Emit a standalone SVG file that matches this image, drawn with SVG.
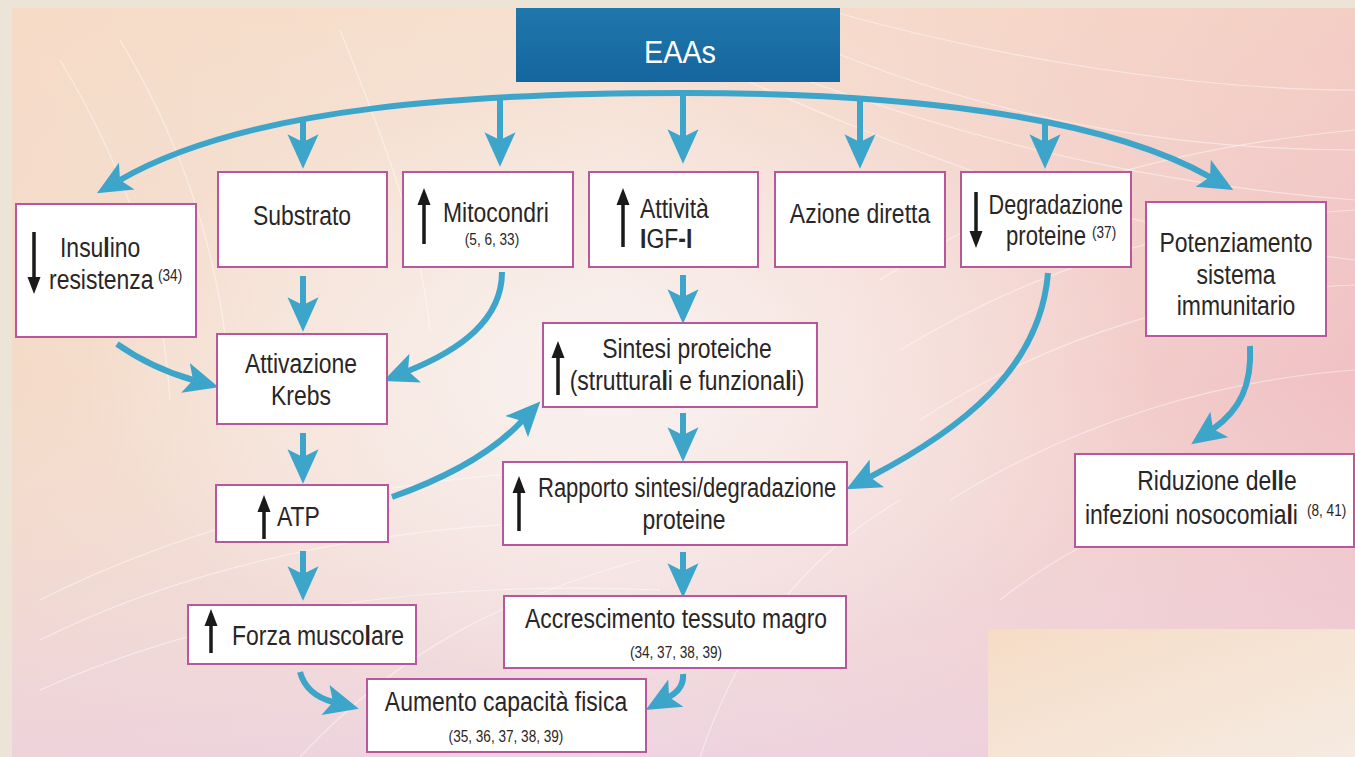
<svg xmlns="http://www.w3.org/2000/svg" width="1355" height="757" viewBox="0 0 1355 757">
<defs>
<style>
.box{fill:#ffffff;stroke:#b8589c;stroke-width:2}
.t{font-family:"Liberation Sans",Arial,sans-serif;font-size:27px;fill:#2a2626}
.s{font-family:"Liberation Sans",Arial,sans-serif;font-size:16px;fill:#2a2626}
.b{font-weight:bold}
.c{fill:none;stroke:#3ea5ca;stroke-width:6;marker-end:url(#ah)}
.ba{fill:#1a1a1a}
.bl{stroke:#1a1a1a;stroke-width:3.5}
.wl{fill:none;stroke:#ffffff;stroke-width:1.2;opacity:0.45}
</style>
<marker id="ah" markerUnits="userSpaceOnUse" markerWidth="40" markerHeight="40" refX="0" refY="0" viewBox="-10 -16 36 32" orient="auto" overflow="visible">
<path d="M24,0 L-7,-14 L0,0 L-7,14 Z" fill="#3ea5ca"/>
</marker>
<linearGradient id="bgH" x1="0" y1="0" x2="1" y2="0">
<stop offset="0" stop-color="#f4dac5"/>
<stop offset="0.45" stop-color="#f6e6dc"/>
<stop offset="0.75" stop-color="#f3d0ca"/>
<stop offset="1" stop-color="#f0bdc1"/>
</linearGradient>
<linearGradient id="bgV" x1="0" y1="0" x2="0" y2="1">
<stop offset="0" stop-color="#f7dcc6" stop-opacity="0.55"/>
<stop offset="0.5" stop-color="#f3e2e2" stop-opacity="0.1"/>
<stop offset="1" stop-color="#ecd0e0" stop-opacity="0.8"/>
</linearGradient>
<radialGradient id="glow" cx="0.45" cy="0.5" r="0.4">
<stop offset="0" stop-color="#faf4f4" stop-opacity="0.8"/>
<stop offset="1" stop-color="#faf4f4" stop-opacity="0"/>
</radialGradient>
<linearGradient id="peach" x1="0" y1="0" x2="1" y2="1">
<stop offset="0" stop-color="#f6dcc6"/>
<stop offset="1" stop-color="#f5ebe2"/>
</linearGradient>
<linearGradient id="blue" x1="0" y1="0" x2="0" y2="1">
<stop offset="0" stop-color="#1f77ac"/>
<stop offset="1" stop-color="#15669e"/>
</linearGradient>
</defs>

<g id="background">
<rect x="0" y="0" width="1355" height="757" fill="#ede4d8"/>
<rect x="12" y="8" width="1343" height="749" fill="url(#bgH)"/>
<rect x="12" y="8" width="1343" height="749" fill="url(#bgV)"/>
<rect x="12" y="8" width="1343" height="749" fill="url(#glow)"/>
<path class="wl" d="M700,40 C900,120 1100,180 1355,200"/>
<path class="wl" d="M700,60 C900,150 1100,230 1355,260"/>
<path class="wl" d="M760,20 C950,110 1150,150 1355,150"/>
<path class="wl" d="M820,8 C1000,60 1200,90 1355,90"/>
<path class="wl" d="M880,280 C1000,200 1150,150 1355,130"/>
<path class="wl" d="M900,350 C1050,260 1200,220 1355,210"/>
<path class="wl" d="M920,420 C1060,330 1210,290 1355,285"/>
<path class="wl" d="M950,500 C1080,420 1220,380 1355,370"/>
<path class="wl" d="M1000,600 C1100,520 1230,480 1355,470"/>
<path class="wl" d="M40,600 C200,520 400,470 620,470"/>
<path class="wl" d="M40,640 C200,560 400,520 640,520"/>
<path class="wl" d="M40,690 C220,610 420,580 660,590"/>
<path class="wl" d="M300,757 C400,650 500,600 640,560"/>
<path class="wl" d="M700,757 C740,640 800,560 900,500"/>
<path class="wl" d="M60,60 C120,160 160,260 170,400"/>
<path class="wl" d="M120,40 C180,140 220,250 230,380"/>
<path class="wl" d="M340,30 C380,130 420,230 430,330"/>
<rect x="988" y="629" width="367" height="128" fill="url(#peach)"/>
</g>

<g id="connectors">
<path class="c" d="M683,93 C480,93 250,105 120,180"/>
<path class="c" d="M683,93 C900,93 1100,115 1210,177"/>
<path class="c" d="M303,117 L303,142"/>
<path class="c" d="M500,96 L500,140"/>
<path class="c" d="M683,92 L683,137"/>
<path class="c" d="M860,96 L860,142"/>
<path class="c" d="M1045,119 L1045,142"/>
<path class="c" d="M303,276 L303,305"/>
<path class="c" d="M502,272 C502,320 460,350 408,371"/>
<path class="c" d="M117,344 C140,360 165,372 193,380"/>
<path class="c" d="M303,433 L303,457"/>
<path class="c" d="M392,497 C440,480 490,455 522,421"/>
<path class="c" d="M683,275 L683,297"/>
<path class="c" d="M683,413 L683,435"/>
<path class="c" d="M1048,273 C1040,370 960,430 870,477"/>
<path class="c" d="M1250,346 C1252,385 1240,410 1213,429"/>
<path class="c" d="M303,551 L303,574"/>
<path class="c" d="M683,552 L683,571"/>
<path class="c" d="M300,672 C305,690 318,698 333,702"/>
<path class="c" d="M683,674 C684,685 678,692 669,697"/>
</g>

<g id="eaas">
<rect x="516" y="8" width="324" height="74" fill="url(#blue)"/>
<text text-anchor="middle" transform="translate(680 63) scale(0.9 1)" font-family="Liberation Sans, Arial, sans-serif" font-size="32" fill="#ffffff">EAAs</text>
</g>

<g id="insulino">
<rect class="box" x="16" y="204" width="180" height="133"/>
<line class="bl" x1="34" y1="232" x2="34" y2="279"/>
<polygon class="ba" points="27.5,277 40.5,277 34,294"/>
<text class="t" transform="translate(60 257) scale(0.85 1)">Insu<tspan class="b">l</tspan>ino</text>
<text class="t" transform="translate(49 289) scale(0.85 1)">resistenza</text>
<text class="s" transform="translate(158 281) scale(0.85 1)">(34)</text>
</g>

<g id="substrato">
<rect class="box" x="218" y="172" width="169" height="95"/>
<text class="t" text-anchor="middle" transform="translate(302 225) scale(0.85 1)">Substrato</text>
</g>

<g id="mitocondri">
<rect class="box" x="403" y="172" width="170" height="95"/>
<line class="bl" x1="424" y1="203" x2="424" y2="244"/>
<polygon class="ba" points="417.5,205 430.5,205 424,188"/>
<text class="t" transform="translate(443 222) scale(0.85 1)">Mitocondri</text>
<text class="s" text-anchor="middle" transform="translate(492 245) scale(0.85 1)">(5, 6, 33)</text>
</g>

<g id="attivita">
<rect class="box" x="589" y="172" width="169" height="95"/>
<line class="bl" x1="623" y1="203" x2="623" y2="247"/>
<polygon class="ba" points="616.5,205 629.5,205 623,188"/>
<text class="t" transform="translate(640 218) scale(0.85 1)">Attività</text>
<text class="t" transform="translate(640 248) scale(0.85 1)"><tspan class="b">I</tspan>GF<tspan class="b">-I</tspan></text>
</g>

<g id="azione">
<rect class="box" x="775" y="172" width="170" height="95"/>
<text class="t" text-anchor="middle" transform="translate(860 223) scale(0.85 1)">Azione diretta</text>
</g>

<g id="degradazione">
<rect class="box" x="961" y="172" width="170" height="95"/>
<line class="bl" x1="976" y1="192" x2="976" y2="233"/>
<polygon class="ba" points="969.5,231 982.5,231 976,248"/>
<text class="t" text-anchor="end" transform="translate(1123 214) scale(0.8 1)">Degradazione</text>
<text class="t" transform="translate(1006 245) scale(0.82 1)">proteine</text>
<text class="s" transform="translate(1092 238) scale(0.85 1)">(37)</text>
</g>

<g id="potenziamento">
<rect class="box" x="1146" y="202" width="180" height="134"/>
<text class="t" text-anchor="middle" transform="translate(1236 252) scale(0.85 1)">Potenziamento</text>
<text class="t" text-anchor="middle" transform="translate(1236 284) scale(0.85 1)">sistema</text>
<text class="t" text-anchor="middle" transform="translate(1236 315) scale(0.85 1)">immunitario</text>
</g>

<g id="krebs">
<rect class="box" x="217" y="334" width="170" height="90"/>
<text class="t" text-anchor="middle" transform="translate(301 373) scale(0.85 1)">Attivazione</text>
<text class="t" text-anchor="middle" transform="translate(301 405) scale(0.85 1)">Krebs</text>
</g>

<g id="sintesi">
<rect class="box" x="543" y="323" width="274" height="84"/>
<line class="bl" x1="558" y1="356" x2="558" y2="395"/>
<polygon class="ba" points="551.5,358 564.5,358 558,341"/>
<text class="t" text-anchor="middle" transform="translate(687 358) scale(0.85 1)">Sintesi proteiche</text>
<text class="t" text-anchor="middle" transform="translate(687 390) scale(0.85 1)">(struttura<tspan class="b">l</tspan>i e funziona<tspan class="b">l</tspan>i)</text>
</g>

<g id="atp">
<rect class="box" x="216" y="485" width="172" height="57"/>
<line class="bl" x1="264" y1="510" x2="264" y2="539"/>
<polygon class="ba" points="257.5,512 270.5,512 264,495"/>
<text class="t" transform="translate(277 526) scale(0.85 1)">ATP</text>
</g>

<g id="rapporto">
<rect class="box" x="503" y="462" width="344" height="83"/>
<line class="bl" x1="519" y1="491" x2="519" y2="531"/>
<polygon class="ba" points="512.5,493 525.5,493 519,476"/>
<text class="t" transform="translate(538 497) scale(0.815 1)">Rapporto sintesi/degradazione</text>
<text class="t" text-anchor="middle" transform="translate(684 529) scale(0.85 1)">proteine</text>
</g>

<g id="riduzione">
<rect class="box" x="1075" y="454" width="279" height="93"/>
<text class="t" text-anchor="middle" transform="translate(1217 490) scale(0.85 1)">Riduzione de<tspan class="b">ll</tspan>e</text>
<text class="t" transform="translate(1085 524) scale(0.85 1)">infezioni nosocomia<tspan class="b">l</tspan>i</text>
<text class="s" transform="translate(1307 516) scale(0.85 1)">(8, 41)</text>
</g>

<g id="forza">
<rect class="box" x="188" y="605" width="228" height="59"/>
<line class="bl" x1="211" y1="624" x2="211" y2="653"/>
<polygon class="ba" points="204.5,626 217.5,626 211,609"/>
<text class="t" transform="translate(232 645) scale(0.85 1)">Forza musco<tspan class="b">l</tspan>are</text>
</g>

<g id="accrescimento">
<rect class="box" x="504" y="596" width="342" height="72"/>
<text class="t" text-anchor="middle" transform="translate(676 628) scale(0.85 1)">Accrescimento tessuto magro</text>
<text class="s" text-anchor="middle" transform="translate(676 658) scale(0.85 1)">(34, 37, 38, 39)</text>
</g>

<g id="aumento">
<rect class="box" x="367" y="679" width="279" height="73"/>
<text class="t" text-anchor="middle" transform="translate(506 711) scale(0.85 1)">Aumento capacità fisica</text>
<text class="s" text-anchor="middle" transform="translate(506 742) scale(0.85 1)">(35, 36, 37, 38, 39)</text>
</g>
</svg>
